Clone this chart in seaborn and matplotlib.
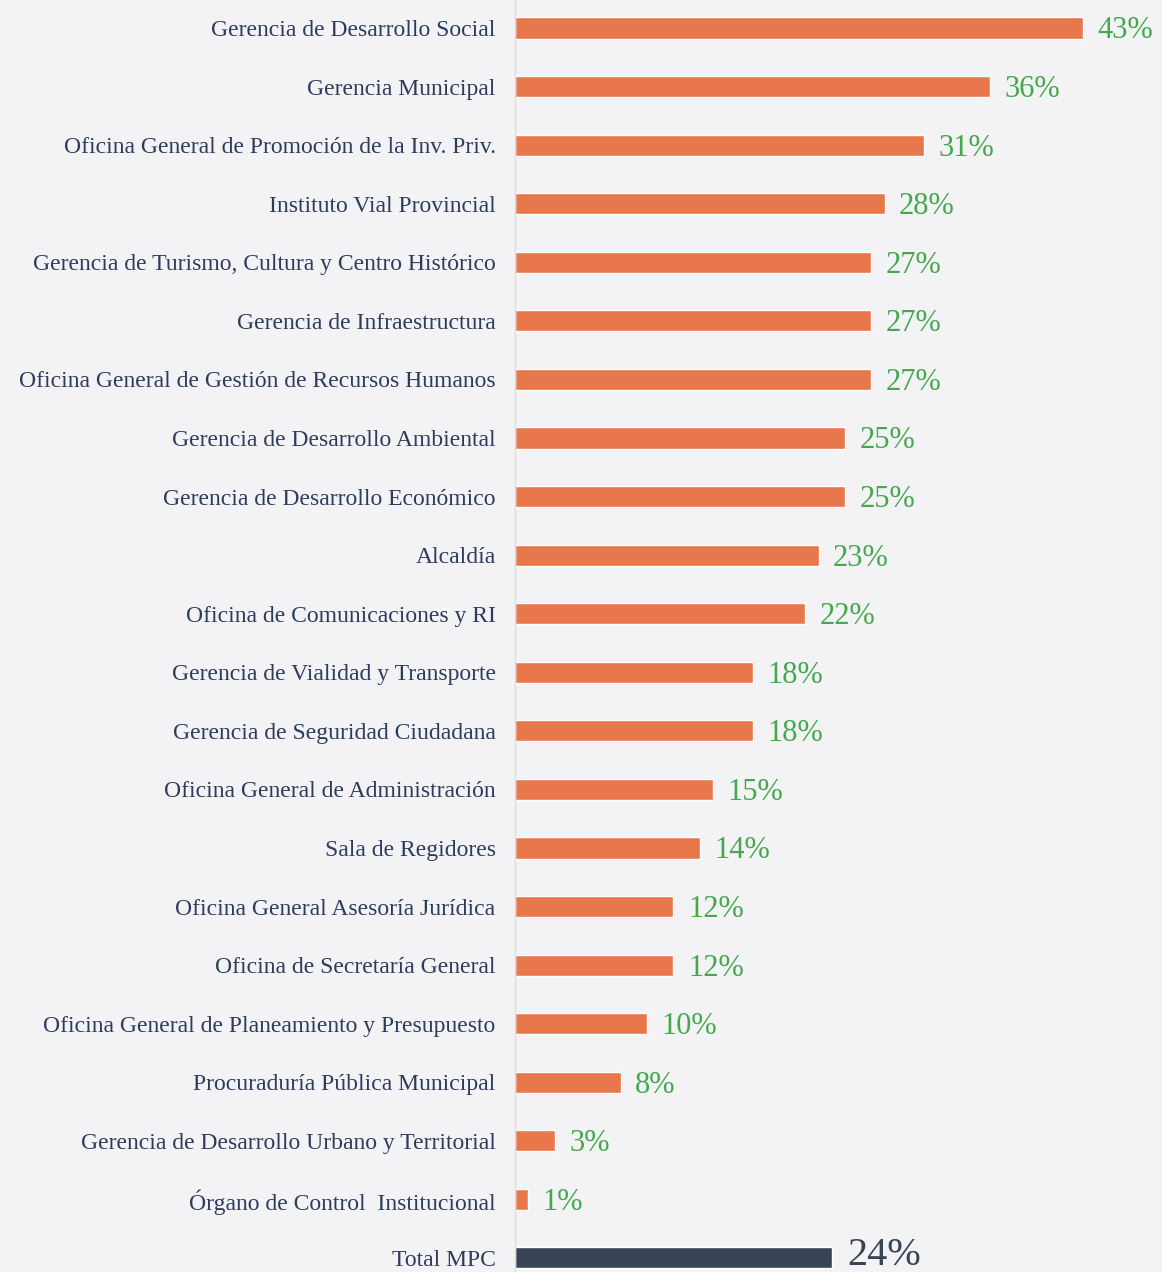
import pandas as pd
import matplotlib.pyplot as plt
import seaborn as sns

areas = [
    "Gerencia de Desarrollo Social",
    "Gerencia Municipal",
    "Oficina General de Promoción de la Inv. Priv.",
    "Instituto Vial Provincial",
    "Gerencia de Turismo, Cultura y Centro Histórico",
    "Gerencia de Infraestructura",
    "Oficina General de Gestión de Recursos Humanos",
    "Gerencia de Desarrollo Ambiental",
    "Gerencia de Desarrollo Económico",
    "Alcaldía",
    "Oficina de Comunicaciones y RI",
    "Gerencia de Vialidad y Transporte",
    "Gerencia de Seguridad Ciudadana",
    "Oficina General de Administración",
    "Sala de Regidores",
    "Oficina General Asesoría Jurídica",
    "Oficina de Secretaría General",
    "Oficina General de Planeamiento y Presupuesto",
    "Procuraduría Pública Municipal",
    "Gerencia de Desarrollo Urbano y Territorial",
    "Órgano de Control  Institucional",
    "Total MPC",
]
pct = [43, 36, 31, 28, 27, 27, 27, 25, 25, 23, 22, 18, 18, 15, 14, 12, 12, 10, 8, 3, 1, 24]
grupo = ["Área"] * 21 + ["Total"]

df = pd.DataFrame({"area": areas, "pct": pct, "grupo": grupo})

naranja = "#E8784C"
navy = "#3A4457"
verde = "#45A84E"
texto = "#2E3C5C"
fondo = "#F3F3F5"

sns.set_theme(style="white")
plt.rcParams["font.family"] = ["Liberation Serif", "DejaVu Serif"]

fig = plt.figure(figsize=(11.62, 12.72), dpi=100, facecolor=fondo)
ax = fig.add_axes([515 / 1162, 0, 640 / 1162, 1])
ax.set_facecolor(fondo)

sns.barplot(data=df, x="pct", y="area", hue="grupo",
            palette={"Área": naranja, "Total": navy},
            dodge=False, width=0.36, legend=False, ax=ax, saturation=1)

ax.set_xlim(0, 640 / 13.2)
ax.set_ylim(21.24, -0.478)

for i, v in enumerate(pct):
    if grupo[i] == "Total":
        ax.text(v + 1.2, i - 0.05, f"{v}%", va="center", ha="left",
                fontsize=29, color=navy)
    else:
        ax.text(v + 1.1, i + 0.05, f"{v}%", va="center", ha="left",
                fontsize=22, color=verde)

ax.set_xlabel("")
ax.set_ylabel("")
ax.set_xticks([])
ax.tick_params(axis="y", length=0, pad=14, labelsize=17, labelcolor=texto)
for s in ["top", "right", "bottom"]:
    ax.spines[s].set_visible(False)
ax.spines["left"].set_color("#DCDCE0")
ax.spines["left"].set_linewidth(1)

fig.savefig("out.png", dpi=100, facecolor=fondo)
